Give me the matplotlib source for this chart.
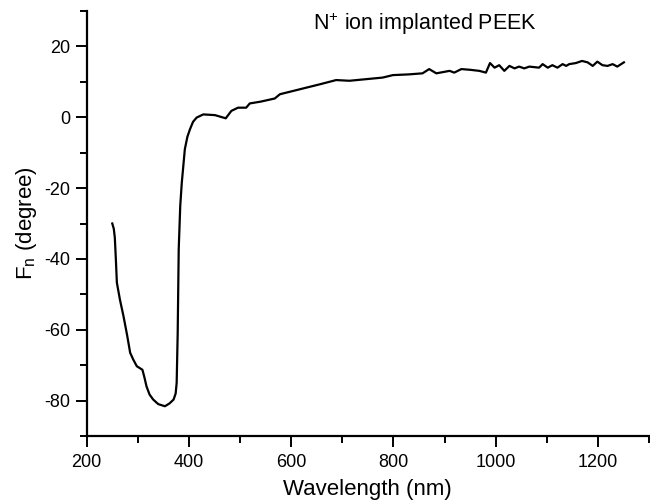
import matplotlib
matplotlib.use('Agg')
import matplotlib.pyplot as plt
from matplotlib.ticker import MultipleLocator

plt.rcParams['font.family'] = ['Liberation Sans', 'DejaVu Sans']
plt.rcParams['axes.unicode_minus'] = False

# wavelength (nm) and Fn (degree)
wavelength = [250, 253, 255, 257, 259, 265, 272, 279, 285, 291, 298, 309, 313,
              317, 323, 330, 340, 353, 362, 370, 374, 376, 378, 380, 383, 386,
              392, 397, 402, 408, 415, 428, 451, 472, 483, 496, 512, 519,
              540, 568, 578, 617, 656, 688, 714, 750, 779, 799, 830, 857, 870,
              884, 910, 919, 933, 950, 968, 981, 989, 998, 1007, 1017, 1027,
              1037, 1046, 1056, 1066, 1085, 1092, 1102, 1111, 1121, 1131, 1138,
              1144, 1157, 1169, 1180, 1190, 1199, 1209, 1219, 1229, 1238, 1251]
fn = [-30, -31.5, -34, -40, -46.7, -51.5, -56.2, -61.5, -66.5, -68.4, -70.3,
      -71.3, -73.5, -76, -78.3, -79.7, -81.0, -81.6, -80.8, -79.7, -78, -75,
      -60.9, -37.3, -25, -18.5, -9, -5.5, -3.4, -1.3, -0.1, 0.8, 0.6, -0.3,
      1.8, 2.7, 2.7, 3.9, 4.4, 5.3, 6.5, 7.9, 9.3, 10.5, 10.3, 10.8, 11.2,
      11.9, 12.1, 12.4, 13.6, 12.4, 13.1, 12.6, 13.6, 13.4, 13.1, 12.6, 15.3,
      14.0, 14.7, 13.1, 14.5, 13.8, 14.3, 13.8, 14.3, 14.0, 15.0, 14.0, 14.7,
      14.0, 15.0, 14.5, 15.0, 15.3, 15.9, 15.5, 14.5, 15.7, 14.7, 14.5, 15.0,
      14.3, 15.5]

fig = plt.figure(figsize=(6.5, 5), dpi=100)
ax = fig.add_axes([0.1334, 0.128, 0.865, 0.85])
ax.plot(wavelength, fn, color='black', lw=1.6)

ax.set_xlim(200, 1300)
ax.set_ylim(-90, 30)
ax.xaxis.set_major_locator(MultipleLocator(200))
ax.xaxis.set_minor_locator(MultipleLocator(100))
ax.yaxis.set_major_locator(MultipleLocator(20))
ax.yaxis.set_minor_locator(MultipleLocator(10))
ax.set_xticks([200, 400, 600, 800, 1000, 1200])

ax.spines['top'].set_visible(False)
ax.spines['right'].set_visible(False)
ax.spines['left'].set_linewidth(1.6)
ax.spines['bottom'].set_linewidth(1.6)
ax.tick_params(which='major', direction='out', length=8, width=1.4, labelsize=13)
ax.tick_params(which='major', axis='x', pad=5)
ax.tick_params(which='minor', direction='out', length=5, width=1.4)

ax.set_xlabel('Wavelength (nm)', fontsize=16, labelpad=6)
ax.set_ylabel(r'F$_\mathregular{n}$ (degree)', fontsize=16, labelpad=4)
ax.text(642, 26.3, r'N$^\mathregular{+}$ ion implanted PEEK', fontsize=15.5,
        va='center', ha='left')

fig.savefig('out.png', dpi=100)
